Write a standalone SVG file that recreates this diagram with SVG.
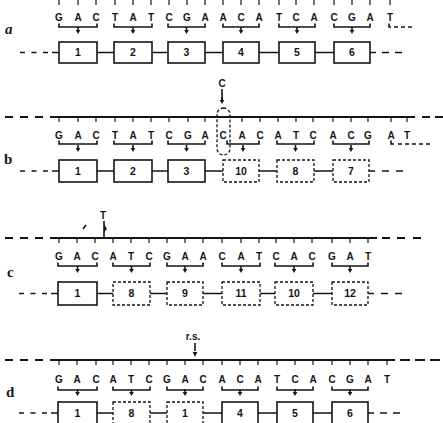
<svg xmlns="http://www.w3.org/2000/svg" width="443" height="423" viewBox="0 0 443 423">
<style>
.t{font-family:"Liberation Sans",Arial,sans-serif;font-weight:bold;font-size:10px;text-anchor:middle;fill:#151515}
.n{font-family:"Liberation Sans",Arial,sans-serif;font-weight:bold;font-size:10.5px;text-anchor:middle;fill:#151515}
.lab{font-family:"Liberation Serif","Times New Roman",serif;font-weight:bold;font-size:15px;fill:#151515}
.box{fill:none;stroke:#151515;stroke-width:1.6}
.dbox{fill:none;stroke:#151515;stroke-width:1.3;stroke-dasharray:3 2}
.ln{fill:none;stroke:#151515;stroke-width:1.6}
.st{fill:none;stroke:#151515;stroke-width:1.8}
.tk{fill:none;stroke:#151515;stroke-width:1.2}
.dl{fill:none;stroke:#151515;stroke-width:1.4;stroke-dasharray:4 3}
</style>
<defs>
<g id="ar"><path d="M0,-7V-3" class="ln"/><polygon points="-2.3,-4 2.3,-4 0,0" fill="#151515"/></g>
</defs>
<rect width="443" height="423" fill="#fff"/>

<!-- panel labels -->
<text class="lab" x="5" y="34" font-style="italic">a</text>
<text class="lab" x="4" y="164">b</text>
<text class="lab" x="7" y="277" font-size="12">c</text>
<text class="lab" x="6" y="397">d</text>

<!-- sequences -->
<g id="seq-a"><text class="t" x="59 78 96 115 133 151 169 187 205 223 241 259 279 296 314 334 352 370 390" y="21">GACTATCGAACATCACGAT</text></g>
<g id="seq-b"><text class="t" x="59 78 96 115 133 151 169 188 205 223 242 260 278 296 313 333 351 368 391 407" y="139">GACTATCGACACATCACGAT</text></g>
<g id="seq-c"><text class="t" x="59 77 95 113 131 149 167 185 203 222 241 259 276 294 312 332 350 368" y="260">GACATCGAACATCACGAT</text></g>
<g id="seq-d"><text class="t" x="59 77 96 113 131 149 167 185 203 222 240 258 277 295 313 332 350 368 387" y="383">GACATCGACACATCACGAT</text></g>

<!-- mutation markers -->
<g id="mut-b">
<text class="t" x="222" y="87">C</text>
<use href="#ar" x="222" y="104"/>
<path d="M0,-4V-15" transform="translate(222,104)" class="ln"/>
<rect x="217" y="108" width="13" height="47" rx="6.5" class="dbox"/>
</g>
<g id="mut-c">
<text class="t" x="103" y="219">T</text>
<path d="M104,221V237" class="ln"/>
<polygon points="104,224 107,229 104,232" fill="#151515"/>
<path d="M83,229L86,225" class="ln"/>
</g>
<g id="mut-d">
<text class="t" x="193" y="340" font-size="7">r.s.</text>
<path d="M195,343V351" class="ln"/>
<polygon points="192.7,352 197.3,352 195,357" fill="#151515"/>
</g>

<!-- connectors: strands, ticks, brackets, links -->
<g id="connectors">
<!-- strands -->
<path class="st" d="M50,117H415 M5,117H13 M20,117H28 M35,117H43 M422,117H430 M435,117H443"/>
<path class="st" d="M50,238H377 M5,238H13 M20,238H28 M35,238H43 M382,238H390 M397,238H405 M413,238H421"/>
<path class="st" d="M50,360H395 M5,360H13 M20,360H28 M35,360H43 M400,360H410 M415,360H425 M430,360H440"/>
<!-- ticks -->
<path class="tk" d="M59,0v5M78,0v5M96,0v5M115,0v5M133,0v5M151,0v5M169,0v5M187,0v5M205,0v5M223,0v5M241,0v5M259,0v5M279,0v5M296,0v5M314,0v5M334,0v5M352,0v5M370,0v5M390,0v5"/>
<path class="tk" d="M59,117v5M78,117v5M96,117v5M115,117v5M133,117v5M151,117v5M169,117v5M188,117v5M205,117v5M242,117v5M260,117v5M278,117v5M296,117v5M313,117v5M333,117v5M351,117v5M368,117v5M391,117v5M407,117v5"/>
<path class="tk" d="M59,238v5M77,238v5M95,238v5M113,238v5M131,238v5M149,238v5M167,238v5M185,238v5M203,238v5M222,238v5M241,238v5M259,238v5M276,238v5M294,238v5M312,238v5M332,238v5M350,238v5M368,238v5"/>
<path class="tk" d="M59,360v5M77,360v5M96,360v5M113,360v5M131,360v5M149,360v5M167,360v5M185,360v5M203,360v5M222,360v5M240,360v5M258,360v5M277,360v5M295,360v5M313,360v5M332,360v5M350,360v5M368,360v5M387,360v5"/>
<!-- brackets a -->
<path class="ln" d="M59,23.5V27H97V23.5 M114,23.5V27H152V23.5 M168,23.5V27H205V23.5 M223,23.5V27H259V23.5 M279,23.5V27H315V23.5 M334,23.5V27H370V23.5 M389,23.5V27H391"/>
<path class="dl" d="M394,27H412"/>
<use href="#ar" x="78" y="34"/><use href="#ar" x="133" y="34"/><use href="#ar" x="186.5" y="34"/><use href="#ar" x="241" y="34"/><use href="#ar" x="297" y="34"/><use href="#ar" x="352" y="34"/>
<!-- brackets b -->
<path class="ln" d="M59,140.5V144H97V140.5 M114,140.5V144H152V140.5 M168,140.5V144H205V140.5 M227,140.5V144H259V140.5 M277,140.5V144H314V140.5 M333,140.5V144H369V140.5 M391,140.5V144H394"/>
<path class="dl" d="M398,144H431"/>
<use href="#ar" x="78" y="152"/><use href="#ar" x="133" y="152"/><use href="#ar" x="186.5" y="152"/><use href="#ar" x="243" y="152"/><use href="#ar" x="295.5" y="152"/><use href="#ar" x="351" y="152"/>
<!-- brackets c -->
<path class="ln" d="M58,262.5V266H97V262.5 M113,262.5V266H150V262.5 M167,262.5V266H203V262.5 M222,262.5V266H260V262.5 M275,262.5V266H313V262.5 M332,262.5V266H368V262.5"/>
<use href="#ar" x="77.5" y="273"/><use href="#ar" x="131.5" y="273"/><use href="#ar" x="185" y="273"/><use href="#ar" x="241" y="273"/><use href="#ar" x="294" y="273"/><use href="#ar" x="350" y="273"/>
<!-- brackets d -->
<path class="ln" d="M58,386.5V390H97V386.5 M113,386.5V390H150V386.5 M167,386.5V390H203V386.5 M222,386.5V390H258V386.5 M277,386.5V390H313V386.5 M332,386.5V390H368V386.5"/>
<use href="#ar" x="77.5" y="396"/><use href="#ar" x="131.5" y="396"/><use href="#ar" x="185" y="396"/><use href="#ar" x="240" y="396"/><use href="#ar" x="295" y="396"/><use href="#ar" x="350" y="396"/>
<!-- chain links a -->
<path class="ln" d="M20,52.5H25M31.5,52.5H36.5M43,52.5H48M52,52.5H59 M97,52.5H114 M152,52.5H168 M205,52.5H223 M259,52.5H279 M315,52.5H334 M370,52.5H376M382,52.5H389M395,52.5H402"/>
<!-- chain links b -->
<path class="ln" d="M20,171H25M31.5,171H36.5M43,171H48M52,171H59 M97,171H114 M152,171H168 M205,171H223 M259,171H277 M314,171H333 M369,171H375M382,171H389M396,171H403"/>
<!-- chain links c -->
<path class="ln" d="M19,293.5H24M30.5,293.5H35.5M42,293.5H47M51,293.5H58 M97,293.5H113 M150,293.5H167 M203,293.5H222 M260,293.5H275 M313,293.5H332 M368,293.5H374M381,293.5H388M395,293.5H402"/>
<!-- chain links d -->
<path class="ln" d="M19,413H24M30.5,413H35.5M42,413H47M51,413H58 M97,413H113 M150,413H167 M203,413H222 M258,413H277 M313,413H332 M368,413H374M380,413H387M393,413H400"/>
</g>

<!-- nodes: panel a -->
<g id="a1"><rect class="box" x="59" y="42" width="38" height="21"/><text class="n" x="78" y="56">1</text></g>
<g id="a2"><rect class="box" x="114" y="42" width="38" height="21"/><text class="n" x="133" y="56">2</text></g>
<g id="a3"><rect class="box" x="168" y="42" width="37" height="21"/><text class="n" x="186.5" y="56">3</text></g>
<g id="a4"><rect class="box" x="223" y="42" width="36" height="21"/><text class="n" x="241" y="56">4</text></g>
<g id="a5"><rect class="box" x="279" y="42" width="36" height="21"/><text class="n" x="297" y="56">5</text></g>
<g id="a6"><rect class="box" x="334" y="42" width="36" height="21"/><text class="n" x="352" y="56">6</text></g>
<!-- panel b -->
<g id="b1"><rect class="box" x="59" y="160" width="38" height="22"/><text class="n" x="78" y="174.5">1</text></g>
<g id="b2"><rect class="box" x="114" y="160" width="38" height="22"/><text class="n" x="133" y="174.5">2</text></g>
<g id="b3"><rect class="box" x="168" y="160" width="37" height="22"/><text class="n" x="186.5" y="174.5">3</text></g>
<g id="b10"><rect class="dbox" x="223" y="160" width="36" height="22"/><text class="n" x="241" y="174.5">10</text></g>
<g id="b8"><rect class="dbox" x="277" y="160" width="37" height="22"/><text class="n" x="295.5" y="174.5">8</text></g>
<g id="b7"><rect class="dbox" x="333" y="160" width="36" height="22"/><text class="n" x="351" y="174.5">7</text></g>
<!-- panel c -->
<g id="c1"><rect class="box" x="58" y="282" width="39" height="23"/><text class="n" x="77.5" y="297">1</text></g>
<g id="c8"><rect class="dbox" x="113" y="282" width="37" height="23"/><text class="n" x="131.5" y="297">8</text></g>
<g id="c9"><rect class="dbox" x="167" y="282" width="36" height="23"/><text class="n" x="185" y="297">9</text></g>
<g id="c11"><rect class="dbox" x="222" y="282" width="38" height="23"/><text class="n" x="241" y="297">11</text></g>
<g id="c10"><rect class="dbox" x="275" y="282" width="38" height="23"/><text class="n" x="294" y="297">10</text></g>
<g id="c12"><rect class="dbox" x="332" y="282" width="36" height="23"/><text class="n" x="350" y="297">12</text></g>
<!-- panel d -->
<g id="d1"><rect class="box" x="58" y="402" width="39" height="22"/><text class="n" x="77.5" y="416.5">1</text></g>
<g id="d8"><rect class="dbox" x="113" y="402" width="37" height="22"/><text class="n" x="131.5" y="416.5">8</text></g>
<g id="d1b"><rect class="dbox" x="167" y="402" width="36" height="22"/><text class="n" x="185" y="416.5">1</text></g>
<g id="d4"><rect class="box" x="222" y="402" width="36" height="22"/><text class="n" x="240" y="416.5">4</text></g>
<g id="d5"><rect class="box" x="277" y="402" width="36" height="22"/><text class="n" x="295" y="416.5">5</text></g>
<g id="d6"><rect class="box" x="332" y="402" width="36" height="22"/><text class="n" x="350" y="416.5">6</text></g>
</svg>
